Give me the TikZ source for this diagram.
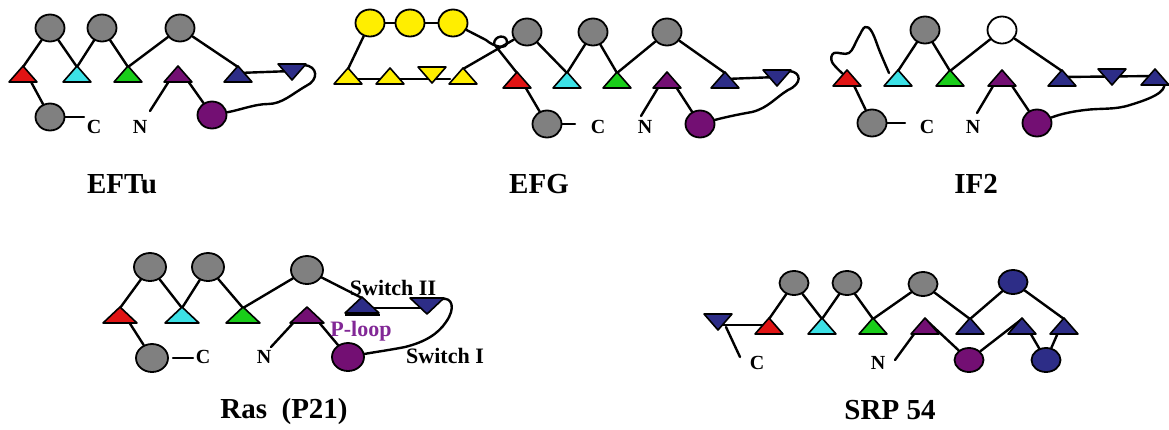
\documentclass[tikz,border=0pt]{standalone}
\usepackage{fontspec}
\setmainfont{Liberation Serif}
\usetikzlibrary{shapes.geometric,backgrounds}
\definecolor{cgray}{RGB}{128,128,128}
\definecolor{cred}{RGB}{225,20,20}
\definecolor{ccyan}{RGB}{60,225,230}
\definecolor{cgreen}{RGB}{25,205,25}
\definecolor{cpurple}{RGB}{115,15,115}
\definecolor{cblue}{RGB}{45,45,135}
\definecolor{cyellow}{RGB}{255,238,0}
\definecolor{ploop}{RGB}{130,40,150}
\newcommand\TriW{14}
\tikzset{
  ball/.style={ellipse, draw=black, line width=1.8pt, minimum width=29pt, minimum height=27pt, inner sep=0pt, fill=#1},
  rball/.style={ball=#1, minimum width=32pt, minimum height=28pt},
  sball/.style={ball=#1, minimum width=29pt, minimum height=24pt},
  link/.style={line width=2.4pt, draw=black, line cap=round, line join=round},
  tu/.pic={
    \filldraw[fill=#1, draw=black, line width=1.6pt, line join=round] (-\TriW,8) -- (\TriW,8) -- (0,-8) -- cycle;
    \coordinate (-a) at (0,-7);
    \coordinate (-m) at (0,-1);
  },
  td/.pic={
    \filldraw[fill=#1, draw=black, line width=1.6pt, line join=round] (-\TriW,-8) -- (\TriW,-8) -- (0,8) -- cycle;
    \coordinate (-m) at (0,-1);
    \coordinate (-r) at (\TriW-2,-7);
  },
  lab/.style={font=\fontsize{29}{30}\selectfont\bfseries, inner sep=0pt},
  tiny/.style={font=\fontsize{20}{20}\selectfont\bfseries, inner sep=0pt},
  mid/.style={font=\fontsize{22}{22}\selectfont\bfseries, inner sep=0pt},
}
\begin{document}
\begin{tikzpicture}[x=1pt,y=-1pt]
\useasboundingbox (0,0) rectangle (1169,429);

% ---------------- EFTu ----------------
\node[ball=cgray] (a1) at (50,28) {};
\node[ball=cgray] (a2) at (102,28) {};
\node[ball=cgray] (a3) at (180,28) {};
\pic (ar) at (23,74) {tu=cred};
\pic (ac) at (77,74) {tu=ccyan};
\pic (ag) at (128,74) {tu=cgreen};
\pic (ap) at (178,74) {tu=cpurple};
\pic (ab) at (238,74) {tu=cblue};
\pic (ad) at (292,72) {td=cblue};
\node[ball=cgray] (a4) at (50,117) {};
\node[ball=cpurple] (a5) at (212,115) {};
\node[tiny] (aC) at (94,127) {C};
\node[tiny] (aN) at (140,127) {N};
\coordinate (aCs) at (84,117);
\coordinate (aNs) at (150,111);
\node[lab] (aL) at (122,184) {EFTu};

% ---------------- EFG ----------------
\node[ball=cyellow] (b1) at (370,23) {};
\node[ball=cyellow] (b2) at (410,23) {};
\node[ball=cyellow] (b3) at (453,23) {};
\pic (by1) at (348,76) {tu=cyellow};
\pic (by2) at (390,76) {tu=cyellow};
\pic (byd) at (432,75) {td=cyellow};
\pic (by4) at (463,76) {tu=cyellow};
\coordinate (bys) at (350,79);
\coordinate (bye) at (450,79);
\node[ball=cgray] (b4) at (527,32) {};
\node[ball=cgray] (b5) at (593,32) {};
\node[ball=cgray] (b6) at (667,32) {};
\pic (br) at (517,80) {tu=cred};
\pic (bc) at (567,80) {tu=ccyan};
\pic (bg) at (617,80) {tu=cgreen};
\pic (bp) at (667,80) {tu=cpurple};
\pic (bb) at (725,80) {tu=cblue};
\pic (bd) at (777,78) {td=cblue};
\node[ball=cgray] (b7) at (547,124) {};
\node[ball=cpurple] (b8) at (700,124) {};
\node[tiny] (bC) at (598,127) {C};
\node[tiny] (bN) at (645,127) {N};
\coordinate (bCs) at (575,124);
\coordinate (bNs) at (641,116);
\node[lab] (bL) at (539,184) {EFG};

% ---------------- IF2 ----------------
\node[ball=cgray] (c1) at (925,30) {};
\node[ball=white] (c2) at (1002,30) {};
\pic (cr) at (847,78) {tu=cred};
\pic (cc) at (898,78) {tu=ccyan};
\pic (cg) at (950,78) {tu=cgreen};
\pic (cp) at (1002,78) {tu=cpurple};
\pic (cb) at (1062,78) {tu=cblue};
\pic (cd) at (1112,77) {td=cblue};
\pic (cb2) at (1155,77) {tu=cblue};
\node[ball=cgray] (c3) at (872,123) {};
\node[ball=cpurple] (c4) at (1037,123) {};
\node[tiny] (cC) at (927,127) {C};
\node[tiny] (cN) at (973,127) {N};
\coordinate (cCs) at (905,123);
\coordinate (cNs) at (977,113);
\coordinate (cw) at (1164,83);
\node[lab] (cL) at (976,184) {IF2};

% ---------------- Ras ----------------
\begin{scope}
\renewcommand\TriW{17}
\node[rball=cgray] (d1) at (150,267) {};
\node[rball=cgray] (d2) at (208,267) {};
\node[rball=cgray] (d3) at (307,270) {};
\pic (dr) at (120,315) {tu=cred};
\pic (dc) at (182,315) {tu=ccyan};
\pic (dg) at (243,315) {tu=cgreen};
\pic (dp) at (307,315) {tu=cpurple};
\pic (db) at (362,305) {tu=cblue};
\pic (dd) at (427,306) {td=cblue};
\end{scope}
\coordinate (du1) at (345,315);
\coordinate (du2) at (380,315);
\node[rball=cgray] (d4) at (152,358) {};
\node[rball=cpurple] (d5) at (348,357) {};
\coordinate (dCa) at (173,358);
\coordinate (dCb) at (193,358);
\node[tiny] (dC) at (203,357) {C};
\node[tiny] (dN) at (264,357) {N};
\coordinate (dNs) at (271,347);
\node[mid, text=ploop] (dPl) at (361,331) {P-loop};
\node[mid] (dS2) at (393,288) {Switch II};
\node[mid] (dS1) at (445,356) {Switch I};
\node[lab] (dL) at (284,412) {Ras\ \ (P21)};

% ---------------- SRP 54 ----------------
\pic (es) at (718,322) {td=cblue};
\pic (er) at (769,326) {tu=cred};
\pic (ec) at (822,326) {tu=ccyan};
\pic (eg) at (873,326) {tu=cgreen};
\pic (ep) at (925,326) {tu=cpurple};
\pic (eb1) at (970,326) {tu=cblue};
\pic (eb2) at (1022,326) {tu=cblue};
\pic (eb3) at (1064,326) {tu=cblue};
\node[sball=cgray] (e1) at (794,283) {};
\node[sball=cgray] (e2) at (847,283) {};
\node[sball=cgray] (e3) at (923,284) {};
\node[sball=cblue] (e4) at (1013,282) {};
\node[sball=cpurple] (e5) at (969,360) {};
\node[sball=cblue] (e6) at (1046,360) {};
\node[tiny] (eC) at (757,363) {C};
\node[tiny] (eN) at (878,363) {N};
\coordinate (eCs) at (740,357);
\coordinate (eNs) at (895,360);
\node[lab] (eL) at (890,410) {SRP 54};

\begin{pgfonlayer}{background}
\fill[white] (0,0) rectangle (1169,429);
% EFTu
\draw[link] (a1) -- (ar-a);
\draw[link] (a1) -- (ac-a);
\draw[link] (a2) -- (ac-a);
\draw[link] (a2) -- (ag-a);
\draw[link] (a3) -- (ag-a);
\draw[link] (a3) -- (ab-a);
\draw[link] (ar-a) -- (a4);
\draw[link] (a4) -- (aCs);
\draw[link] (aNs) -- (ap-a);
\draw[link] (ap-a) -- (a5);
\draw[link] (ab-m) -- (ad-m);
\draw[link] (ad-r) .. controls (318,66) and (319,80) .. (306,86)
   .. controls (292,94) and (282,104) .. (268,104)
   .. controls (255,104) and (240,110) .. (a5);
% EFG
\draw[link] (b1) -- (b2);
\draw[link] (b2) -- (b3);
\draw[link] (b1) -- (by1-a);
\draw[link] (bys) -- (bye);
\draw[link] (by4-a) -- (b4);
\draw[link] (b3) -- (486,40) .. controls (494,47) and (507,50) .. (507,42)
   .. controls (507,34) and (494,35) .. (494,44) -- (br-a);
\draw[link] (br-a) -- (b7);
\draw[link] (b7) -- (bCs);
\draw[link] (b4) -- (bc-a);
\draw[link] (b5) -- (bc-a);
\draw[link] (b5) -- (bg-a);
\draw[link] (b6) -- (bg-a);
\draw[link] (b6) -- (bb-a);
\draw[link] (bNs) -- (bp-a);
\draw[link] (bp-a) -- (b8);
\draw[link] (bb-m) -- (bd-m);
\draw[link] (bd-r) .. controls (802,72) and (802,84) .. (788,90)
   .. controls (775,98) and (768,108) .. (752,112)
   .. controls (735,115) and (722,118) .. (b8);
% IF2
\draw[link] plot[smooth, tension=0.6] coordinates {(843,74) (832,62) (834,53) (849,53) (858,38) (865,27) (872,32) (880,52) (889,73)};
\draw[link] (c1) -- (cc-a);
\draw[link] (c1) -- (cg-a);
\draw[link] (c2) -- (cg-a);
\draw[link] (c2) -- (cb-a);
\draw[link] (cr-a) -- (c3);
\draw[link] (c3) -- (cCs);
\draw[link] (cNs) -- (cp-a);
\draw[link] (cp-a) -- (c4);
\draw[link] (cb-m) -- (cb2-m);
\draw[link] (cw) .. controls (1167,92) and (1150,99) .. (1130,105)
   .. controls (1115,110) and (1100,108) .. (1085,110)
   .. controls (1068,112) and (1058,115) .. (c4);
% Ras
\draw[link] (d1) -- (dr-a);
\draw[link] (d1) -- (dc-a);
\draw[link] (d2) -- (dc-a);
\draw[link] (d2) -- (dg-a);
\draw[link] (d3) -- (dg-a);
\draw[link] (d3) -- (db-a);
\draw[link] (dr-a) -- (d4);
\draw[link] (dCa) -- (dCb);
\draw[link] (dNs) -- (dp-a);
\draw[link] (dp-a) -- (d5);
\draw[link] (db-m) ++(0,4) -- ([yshift=-3pt]dd-m);
\draw[link] (dd-r) .. controls (452,297) and (456,308) .. (446,322)
   .. controls (438,334) and (425,342) .. (405,347)
   .. controls (390,350) and (375,352) .. (d5);
% SRP 54
\draw[link] (es-m) ++(0,4) -- (er-m);
\draw[link] (es-m) ++(8,6) -- (eCs);
\draw[link] (e1) -- (er-a);
\draw[link] (e1) -- (ec-a);
\draw[link] (e2) -- (ec-a);
\draw[link] (e2) -- (eg-a);
\draw[link] (e3) -- (eg-a);
\draw[link] (e3) -- (eb1-a);
\draw[link] (e4) -- (eb1-a);
\draw[link] (e4) -- (eb3-a);
\draw[link] (eNs) -- (ep-a);
\draw[link] (ep-a) -- (e5);
\draw[link] (e5) -- (eb2-a);
\draw[link] (eb2-a) -- (e6);
\draw[link] (e6) -- (eb3-a);
\end{pgfonlayer}
% Ras double base under the Switch II triangle
\draw[line width=1.8pt] (du1) -- (du2);
\end{tikzpicture}
\end{document}
